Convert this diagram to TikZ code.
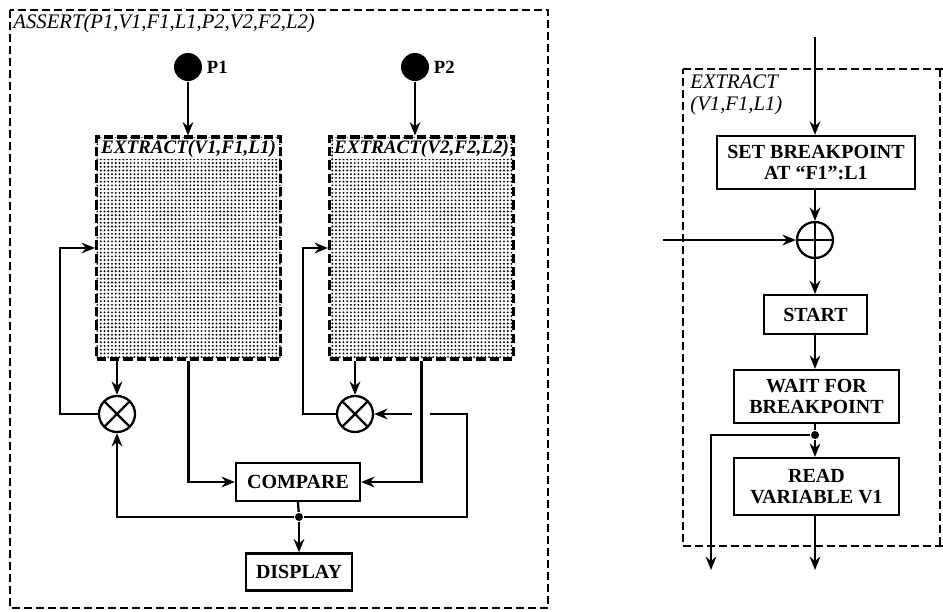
\documentclass[tikz,border=0pt]{standalone}
\usepackage{fontspec}
\setmainfont{Liberation Serif}
\usetikzlibrary{arrows.meta,patterns.meta}

\begin{document}
\begin{tikzpicture}[x=0.75pt,y=-0.75pt,
    line width=1.7pt,
    >={Stealth[length=10pt,width=8pt]},
    box/.style={
        draw,
        fill=white,
        align=center,
        inner sep=1pt,
        font=\bfseries\fontsize{15}{15.5}\selectfont
    },
    outline/.style={draw, dash pattern=on 6pt off 3pt, line width=1.5pt},
    subsys/.style={
        draw,
        dash pattern=on 7pt off 3pt,
        line width=2.3pt,
        pattern={Dots[distance=2.8pt,radius=0.8pt]},  % speckled inside
        minimum width=138pt,
        minimum height=166.5pt
    },
    sublabel/.style={fill=white, inner sep=0.5pt, anchor=north,
        font=\bfseries\itshape\fontsize{14.3}{15}\selectfont},
    mult/.style={circle, draw, minimum size=27pt, inner sep=0pt,
        path picture={
            \draw (path picture bounding box.north west) -- (path picture bounding box.south east)
                  (path picture bounding box.north east) -- (path picture bounding box.south west);}},
    adder/.style={circle, draw, minimum size=27pt, inner sep=0pt,
        path picture={
            \draw (path picture bounding box.north) -- (path picture bounding box.south)
                  (path picture bounding box.west) -- (path picture bounding box.east);}},
    probe/.style={circle, fill, minimum size=21pt, inner sep=0pt},
    dot/.style={circle, fill, minimum size=6pt, inner sep=0pt},
    title/.style={anchor=north west, align=left, inner sep=1pt,
        font=\itshape\fontsize{15.5}{17}\selectfont}
]
\useasboundingbox (0,0) rectangle (943,611);

% ---- left: ASSERT ----
\draw[outline] (10,10) rectangle (548,608);
\node[title] (assert) at (11,12) {ASSERT(P1,V1,F1,L1,P2,V2,F2,L2)};

\node[probe, label={[font=\bfseries\fontsize{14}{14}\selectfont, inner sep=2pt]right:P1}] (p1) at (188,67) {};
\node[probe, label={[font=\bfseries\fontsize{14}{14}\selectfont, inner sep=2pt]right:P2}] (p2) at (415,67) {};

\node[subsys] (ex1) at (188.5,248) {};
\node[subsys] (ex2) at (421.5,248) {};
\node[sublabel] (ex1lab) at ([yshift=-2.5pt]ex1.north) {EXTRACT(V1,F1,L1)};
\node[sublabel] (ex2lab) at ([yshift=-2.5pt]ex2.north) {EXTRACT(V2,F2,L2)};

\node[mult] (m1) at (117,414) {};
\node[mult] (m2) at (355,414) {};

\node[box, minimum width=93pt, minimum height=28.5pt] (cmp) at (298,482) {COMPARE};
\node[box, minimum width=79pt, minimum height=27.75pt] (disp) at (299,572) {DISPLAY};
\node[dot] (j1) at (299,517) {};

\coordinate (fb1) at (60,414);
\coordinate (fb2) at (303,414);
\coordinate (rc) at (467,517);
\coordinate (gapR) at (430,414);
\coordinate (gapL) at (412,414);

\draw[->] (p1) -- (p1 |- ex1.north);
\draw[->] (p2) -- (p2 |- ex2.north);
\draw[->] (m1 |- ex1.south) -- (m1);
\draw[->] (m2 |- ex2.south) -- (m2);
\draw[->] (m1.west) -- (fb1) |- (ex1.west);
\draw[->] (m2.west) -- (fb2) |- (ex2.west);
\draw[->] (ex1.south) |- (cmp.west);
\draw[->] (ex2.south) |- (cmp.east);
\draw (cmp.south) -- (j1);
\draw[->] (j1) -- (disp.north);
\draw[->] (j1) -| (m1.south);
\draw (j1) -- (rc) |- (gapR);
\draw[->] (gapL) -- (m2.east);

% ---- right: EXTRACT ----
\draw[outline] (683,69) -- (943,69);
\draw[outline] (940,69) -- (940,546);
\draw[outline] (943,546) -- (683,546) -- (683,69);
\node[title] (extract) at (688,72) {EXTRACT\\(V1,F1,L1)};

\node[box, minimum width=148.5pt, minimum height=39.75pt] (setbp) at (816,162.5) {SET BREAKPOINT\\AT ``F1'':L1};
\node[adder] (add) at (815,240) {};
\node[box, minimum width=77pt, minimum height=29pt] (start) at (815.5,314.5) {START};
\node[box, minimum width=124pt, minimum height=39.75pt] (wait) at (816.5,396.5) {WAIT FOR\\BREAKPOINT};
\node[dot] (j2) at (815,435) {};
\node[box, minimum width=124pt, minimum height=42.75pt] (read) at (816.5,486.5) {READ\\VARIABLE V1};

\coordinate (in1) at (815,37);
\coordinate (in2) at (663,240);
\coordinate (out1) at (711,570);
\coordinate (out2) at (815,570);

\draw[->] (in1) -- (setbp.north -| in1);
\draw[->] (setbp.south -| add) -- (add);
\draw[->] (in2) -- (add.west);
\draw[->] (add) -- (start.north -| add);
\draw[->] (start.south -| add) -- (wait.north -| add);
\draw (wait.south -| j2) -- (j2);
\draw[->] (j2) -- (read.north -| j2);
\draw[->] (j2) -| (out1);
\draw[->] (read.south -| out2) -- (out2);
\end{tikzpicture}
\end{document}
